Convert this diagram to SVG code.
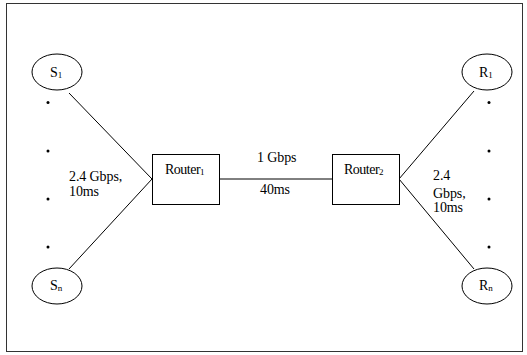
<svg xmlns="http://www.w3.org/2000/svg" width="527" height="355" viewBox="0 0 527 355">
<style>
.t{font-family:"Liberation Serif","Times New Roman",Times,serif;font-size:14px;fill:#000;letter-spacing:-0.1px}
.r{letter-spacing:-0.5px}
.sub{font-size:9px}
.n{fill:#fff;stroke:#000;stroke-width:1}
.c{stroke:#000;stroke-width:1;fill:none}
.d{fill:#000}
</style>
<rect x="0" y="0" width="527" height="355" fill="#fff"/>
<rect x="6.5" y="3.5" width="516" height="348" fill="none" stroke="#333" stroke-width="1"/>
<g id="connectors">
<line class="c" x1="69" y1="93" x2="152" y2="179"/>
<line class="c" x1="69" y1="269" x2="152" y2="179"/>
<line class="c" x1="220" y1="179" x2="332" y2="179"/>
<line class="c" x1="474" y1="91" x2="399" y2="179"/>
<line class="c" x1="474" y1="269" x2="399" y2="179"/>
</g>
<g id="S1"><ellipse class="n" cx="57" cy="72" rx="25" ry="18"/><text class="t" x="50" y="77">S<tspan class="sub" dy="1">1</tspan></text></g>
<g id="Sn"><ellipse class="n" cx="57" cy="286" rx="25" ry="18"/><text class="t" x="50" y="290">S<tspan class="sub" dy="1">n</tspan></text></g>
<g id="R1"><ellipse class="n" cx="487" cy="72" rx="25" ry="18"/><text class="t" x="479" y="77">R<tspan class="sub" dy="1">1</tspan></text></g>
<g id="Rn"><ellipse class="n" cx="487" cy="286" rx="25" ry="18"/><text class="t" x="479" y="290">R<tspan class="sub" dy="1">n</tspan></text></g>
<g id="Router1"><rect class="n" x="152.5" y="154.5" width="67" height="50" stroke="#333"/><text class="t r" x="165" y="174">Router<tspan class="sub" dy="1">1</tspan></text></g>
<g id="Router2"><rect class="n" x="332.5" y="154.5" width="67" height="50" stroke="#333"/><text class="t r" x="344" y="174">Router<tspan class="sub" dy="1">2</tspan></text></g>
<g id="dots">
<circle class="d" cx="48" cy="102.5" r="1.5"/><circle class="d" cx="48" cy="151" r="1.5"/><circle class="d" cx="48" cy="199" r="1.5"/><circle class="d" cx="48" cy="247" r="1.5"/>
<circle class="d" cx="489" cy="102.5" r="1.5"/><circle class="d" cx="489" cy="151" r="1.5"/><circle class="d" cx="489" cy="199" r="1.5"/><circle class="d" cx="489" cy="247" r="1.5"/>
</g>
<g id="labels">
<text class="t" x="69" y="181">2.4 Gbps,</text>
<text class="t" x="69" y="196">10ms</text>
<text class="t" x="257" y="162">1 Gbps</text>
<text class="t" x="260" y="194">40ms</text>
<text class="t" x="433" y="180">2.4</text>
<text class="t" x="433" y="198">Gbps,</text>
<text class="t" x="433" y="212">10ms</text>
</g>
</svg>
